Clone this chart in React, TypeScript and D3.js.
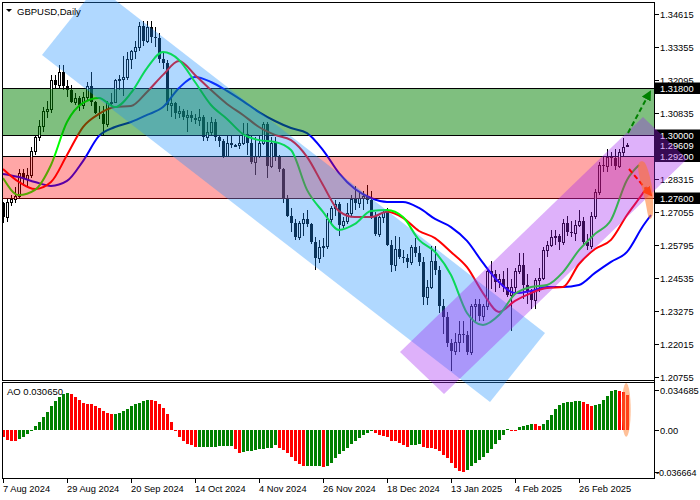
import React from 'react';
import * as d3 from 'd3';

const W = 700;
const H = 500;

// time axis: one label every 16 bars
const dateTicks = [0, 16, 32, 48, 64, 80, 96, 112, 128, 144];
const dateLabels = ['7 Aug 2024', '29 Aug 2024', '20 Sep 2024', '14 Oct 2024', '4 Nov 2024', '26 Nov 2024', '18 Dec 2024', '13 Jan 2025', '4 Feb 2025', '26 Feb 2025'];

// daily candles
const opens = [1.2740, 1.2688, 1.2745, 1.2755, 1.2765, 1.2855, 1.2830, 1.2845, 1.2940, 1.2990,
  1.3035, 1.3090, 1.3100, 1.3210, 1.3190, 1.3240, 1.3185, 1.3170, 1.3125, 1.3140,
  1.3115, 1.3145, 1.3185, 1.3125, 1.3085, 1.3080, 1.3040, 1.3120, 1.3125, 1.3210,
  1.3215, 1.3220, 1.3290, 1.3320, 1.3335, 1.3415, 1.3360, 1.3410, 1.3375, 1.3370,
  1.3290, 1.3275, 1.3115, 1.3120, 1.3085, 1.3090, 1.3070, 1.3075, 1.3065, 1.3055,
  1.3070, 1.2990, 1.3010, 1.3050, 1.2990, 1.2975, 1.2920, 1.2970, 1.2960, 1.2962,
  1.2970, 1.3005, 1.2970, 1.2895, 1.2920, 1.2970, 1.3040, 1.2880, 1.2970, 1.2915,
  1.2870, 1.2755, 1.2690, 1.2665, 1.2610, 1.2665, 1.2680, 1.2660, 1.2590, 1.2530,
  1.2570, 1.2575, 1.2680, 1.2720, 1.2735, 1.2655, 1.2670, 1.2700, 1.2755, 1.2740,
  1.2760, 1.2765, 1.2750, 1.2690, 1.2620, 1.2685, 1.2705, 1.2580, 1.2505, 1.2565,
  1.2535, 1.2530, 1.2515, 1.2570, 1.2550, 1.2515, 1.2380, 1.2420, 1.2520, 1.2485,
  1.2345, 1.2305, 1.2205, 1.2175, 1.2210, 1.2240, 1.2235, 1.2170, 1.2345, 1.2355,
  1.2310, 1.2345, 1.2480, 1.2470, 1.2440, 1.2450, 1.2420, 1.2390, 1.2420, 1.2480,
  1.2505, 1.2425, 1.2405, 1.2370, 1.2445, 1.2455, 1.2560, 1.2580, 1.2610, 1.2615,
  1.2590, 1.2665, 1.2630, 1.2625, 1.2655, 1.2670, 1.2590, 1.2575, 1.2690, 1.2780,
  1.2885, 1.2880, 1.2915, 1.2910, 1.2880, 1.2935, 1.2958];
const highs = [1.2745, 1.2755, 1.2770, 1.2800, 1.2870, 1.2870, 1.2875, 1.2955, 1.2995, 1.3055,
  1.3105, 1.3130, 1.3230, 1.3230, 1.3265, 1.3265, 1.3210, 1.3190, 1.3160, 1.3150,
  1.3165, 1.3200, 1.3240, 1.3130, 1.3110, 1.3110, 1.3130, 1.3160, 1.3215, 1.3230,
  1.3300, 1.3315, 1.3325, 1.3360, 1.3430, 1.3435, 1.3435, 1.3435, 1.3410, 1.3390,
  1.3315, 1.3285, 1.3175, 1.3125, 1.3110, 1.3100, 1.3095, 1.3090, 1.3080, 1.3100,
  1.3075, 1.3050, 1.3070, 1.3060, 1.3000, 1.2985, 1.2995, 1.2995, 1.2965, 1.2995,
  1.3045, 1.3045, 1.3000, 1.2990, 1.2995, 1.3050, 1.3050, 1.2990, 1.2990, 1.2925,
  1.2875, 1.2770, 1.2720, 1.2680, 1.2670, 1.2700, 1.2715, 1.2665, 1.2610, 1.2600,
  1.2605, 1.2700, 1.2730, 1.2750, 1.2745, 1.2685, 1.2740, 1.2770, 1.2805, 1.2785,
  1.2785, 1.2810, 1.2785, 1.2705, 1.2690, 1.2710, 1.2720, 1.2600, 1.2615, 1.2610,
  1.2560, 1.2545, 1.2580, 1.2605, 1.2575, 1.2535, 1.2445, 1.2575, 1.2575, 1.2500,
  1.2375, 1.2325, 1.2220, 1.2245, 1.2290, 1.2290, 1.2250, 1.2355, 1.2375, 1.2375,
  1.2355, 1.2490, 1.2520, 1.2485, 1.2470, 1.2480, 1.2490, 1.2450, 1.2490, 1.2550,
  1.2550, 1.2470, 1.2410, 1.2455, 1.2490, 1.2570, 1.2595, 1.2635, 1.2635, 1.2620,
  1.2680, 1.2690, 1.2670, 1.2675, 1.2715, 1.2685, 1.2620, 1.2705, 1.2795, 1.2895,
  1.2920, 1.2945, 1.2935, 1.2945, 1.2945, 1.2988, 1.2968];
const lows = [1.2665, 1.2668, 1.2730, 1.2740, 1.2760, 1.2805, 1.2800, 1.2835, 1.2925, 1.2975,
  1.3010, 1.3065, 1.3085, 1.3175, 1.3180, 1.3170, 1.3145, 1.3120, 1.3115, 1.3090,
  1.3100, 1.3135, 1.3110, 1.3080, 1.3060, 1.3000, 1.3030, 1.3110, 1.3120, 1.3170,
  1.3150, 1.3210, 1.3250, 1.3290, 1.3320, 1.3340, 1.3350, 1.3350, 1.3335, 1.3275,
  1.3250, 1.3090, 1.3070, 1.3060, 1.3065, 1.3055, 1.3010, 1.3050, 1.3040, 1.3035,
  1.2975, 1.2975, 1.3000, 1.2975, 1.2955, 1.2910, 1.2915, 1.2950, 1.2955, 1.2945,
  1.2960, 1.2925, 1.2890, 1.2845, 1.2910, 1.2960, 1.2835, 1.2875, 1.2900, 1.2860,
  1.2740, 1.2685, 1.2630, 1.2600, 1.2600, 1.2615, 1.2650, 1.2585, 1.2485, 1.2510,
  1.2535, 1.2565, 1.2665, 1.2690, 1.2615, 1.2645, 1.2660, 1.2690, 1.2715, 1.2720,
  1.2715, 1.2735, 1.2680, 1.2615, 1.2610, 1.2665, 1.2575, 1.2475, 1.2480, 1.2525,
  1.2510, 1.2490, 1.2505, 1.2535, 1.2500, 1.2350, 1.2350, 1.2410, 1.2465, 1.2320,
  1.2240, 1.2190, 1.2100, 1.2160, 1.2170, 1.2205, 1.2160, 1.2160, 1.2285, 1.2290,
  1.2290, 1.2330, 1.2410, 1.2400, 1.2415, 1.2400, 1.2380, 1.2250, 1.2400, 1.2470,
  1.2375, 1.2355, 1.2335, 1.2335, 1.2400, 1.2445, 1.2535, 1.2570, 1.2580, 1.2560,
  1.2580, 1.2615, 1.2610, 1.2595, 1.2650, 1.2585, 1.2560, 1.2565, 1.2680, 1.2770,
  1.2860, 1.2860, 1.2880, 1.2865, 1.2875, 1.2920, 1.2952];
const closes = [1.2685, 1.2745, 1.2755, 1.2765, 1.2855, 1.2830, 1.2845, 1.2940, 1.2990, 1.3035,
  1.3090, 1.3100, 1.3210, 1.3190, 1.3240, 1.3185, 1.3170, 1.3125, 1.3140, 1.3115,
  1.3145, 1.3185, 1.3125, 1.3085, 1.3080, 1.3040, 1.3120, 1.3125, 1.3210, 1.3215,
  1.3220, 1.3290, 1.3320, 1.3335, 1.3415, 1.3360, 1.3410, 1.3375, 1.3370, 1.3290,
  1.3275, 1.3115, 1.3120, 1.3085, 1.3090, 1.3070, 1.3075, 1.3065, 1.3055, 1.3070,
  1.2990, 1.3010, 1.3050, 1.2990, 1.2975, 1.2920, 1.2970, 1.2960, 1.2962, 1.2970,
  1.3005, 1.2970, 1.2895, 1.2920, 1.2970, 1.3040, 1.2880, 1.2970, 1.2915, 1.2870,
  1.2755, 1.2690, 1.2665, 1.2610, 1.2665, 1.2680, 1.2660, 1.2590, 1.2530, 1.2570,
  1.2575, 1.2680, 1.2720, 1.2735, 1.2655, 1.2670, 1.2700, 1.2755, 1.2740, 1.2760,
  1.2765, 1.2750, 1.2690, 1.2620, 1.2685, 1.2705, 1.2580, 1.2505, 1.2565, 1.2535,
  1.2530, 1.2515, 1.2570, 1.2550, 1.2515, 1.2380, 1.2420, 1.2520, 1.2485, 1.2345,
  1.2305, 1.2205, 1.2175, 1.2210, 1.2240, 1.2235, 1.2170, 1.2345, 1.2355, 1.2310,
  1.2345, 1.2480, 1.2470, 1.2440, 1.2450, 1.2420, 1.2390, 1.2420, 1.2480, 1.2505,
  1.2425, 1.2405, 1.2370, 1.2445, 1.2455, 1.2560, 1.2580, 1.2610, 1.2615, 1.2590,
  1.2665, 1.2630, 1.2625, 1.2655, 1.2670, 1.2590, 1.2575, 1.2690, 1.2780, 1.2885,
  1.2880, 1.2915, 1.2910, 1.2880, 1.2935, 1.2955, 1.29609];

// Alligator lines, read every 4 bars, plus the shifted end point
const lineStep = 4;
const lips = [1.2835, 1.2770, 1.2790, 1.2885, 1.3049, 1.3122, 1.3141, 1.3106, 1.3160, 1.3255,
  1.3316, 1.3286, 1.3202, 1.3114, 1.3061, 1.3003, 1.2980, 1.2973, 1.2942, 1.2790,
  1.2706, 1.2637, 1.2660, 1.2709, 1.2713, 1.2686, 1.2599, 1.2553, 1.2465, 1.2320,
  1.2274, 1.2312, 1.2392, 1.2419, 1.2427, 1.2476, 1.2560, 1.2622, 1.2675, 1.2828];
const lipsEnd = [159, 1.2885];
const teeth = [1.2870, 1.2820, 1.2793, 1.2820, 1.2923, 1.3030, 1.3080, 1.3106, 1.3110, 1.3164,
  1.3229, 1.3282, 1.3229, 1.3171, 1.3118, 1.3076, 1.3030, 1.3000, 1.2980, 1.2916,
  1.2809, 1.2709, 1.2686, 1.2686, 1.2706, 1.2683, 1.2633, 1.2606, 1.2553, 1.2495,
  1.2396, 1.2324, 1.2366, 1.2396, 1.2415, 1.2419, 1.2507, 1.2564, 1.2599, 1.2694, 1.2778];
const teethEnd = [161, 1.2801];
const jaw = [1.2851, 1.2839, 1.2820, 1.2805, 1.2824, 1.2900, 1.2996, 1.3030, 1.3049, 1.3076,
  1.3106, 1.3179, 1.3221, 1.3202, 1.3168, 1.3129, 1.3087, 1.3053, 1.3026, 1.3007,
  1.2942, 1.2854, 1.2793, 1.2759, 1.2744, 1.2744, 1.2721, 1.2679, 1.2648, 1.2595,
  1.2511, 1.2438, 1.2396, 1.2404, 1.2419, 1.2419, 1.2427, 1.2473, 1.2515, 1.2553, 1.2652];
const jawEnd = [162, 1.2694];

// Awesome Oscillator
const ao = [-0.0063, -0.0087, -0.0093, -0.0094, -0.0081, -0.0058, -0.0035, -0.0006, 0.0035, 0.0072,
  0.0110, 0.0159, 0.0211, 0.0254, 0.0289, 0.0309, 0.0324, 0.0309, 0.0289, 0.0260,
  0.0237, 0.0225, 0.0223, 0.0208, 0.0188, 0.0168, 0.0145, 0.0136, 0.0140, 0.0145,
  0.0165, 0.0182, 0.0208, 0.0223, 0.0237, 0.0252, 0.0260, 0.0259, 0.0254, 0.0225,
  0.0188, 0.0139, 0.0066, -0.0006, -0.0058, -0.0101, -0.0124, -0.0136, -0.0150, -0.0149,
  -0.0148, -0.0147, -0.0146, -0.0145, -0.0144, -0.0143, -0.0142, -0.0141, -0.0170, -0.0200,
  -0.0190, -0.0183, -0.0180, -0.0176, -0.0170, -0.0165, -0.0162, -0.0156, -0.0136, -0.0156,
  -0.0176, -0.0200, -0.0235, -0.0272, -0.0301, -0.0316, -0.0315, -0.0314, -0.0313, -0.0312,
  -0.0323, -0.0314, -0.0289, -0.0246, -0.0208, -0.0182, -0.0156, -0.0124, -0.0101, -0.0072,
  -0.0049, -0.0029, -0.0014, -0.0029, -0.0043, -0.0052, -0.0064, -0.0093, -0.0101, -0.0116,
  -0.0136, -0.0145, -0.0136, -0.0130, -0.0121, -0.0145, -0.0159, -0.0160, -0.0168, -0.0188,
  -0.0217, -0.0246, -0.0290, -0.0335, -0.0362, -0.036664, -0.0345, -0.0312, -0.0285, -0.0258,
  -0.0235, -0.0200, -0.0165, -0.0125, -0.0085, -0.0045, 0.0010, -0.0003, -0.0005, 0.0029,
  0.0030, 0.0038, 0.0052, 0.0049, 0.0035, 0.0050, 0.0087, 0.0130, 0.0179, 0.0217,
  0.0231, 0.0240, 0.0246, 0.0248, 0.0249, 0.0240, 0.0225, 0.0208, 0.0217, 0.0225,
  0.0260, 0.0295, 0.0335, 0.034685, 0.0340, 0.0330, 0.030650];

// price scale ticks and marked levels
const priceTicks = [1.34615, 1.33355, 1.32095, 1.30835, 1.29575, 1.28315, 1.27055, 1.25795, 1.24535, 1.23275, 1.22015, 1.20755];
const levels = [1.318, 1.300, 1.292, 1.276];
const priceBoxes = [1.318, 1.300, 1.29609, 1.292, 1.276];
const aoTicks = [0.034685, 0, -0.036664];
const aoTickLabels = ['0.034685', '0.00', '-0.036664'];

// drawn objects, [bar, price]
const blueChannel = [[9.75, 1.3305], [23.5, 1.35685], [135.5, 1.22435], [121.75, 1.198]];
const purpleChannel = [[99.25, 1.2171], [160, 1.30683], [171, 1.29079], [110.25, 1.20106]];
const greenArrow = [[156.25, 1.30072], [161.75, 1.31637]];
const redArrow = [[156.5, 1.28697], [162, 1.27704]];
const orangeWedge = [[158.75, 1.28773], [160.5, 1.28926], [162.25, 1.2801], [162.5, 1.27017], [161.5, 1.26826], [160.5, 1.27513]];
const aoMark = { bar: 155.8, top: 0.0407, bottom: -0.0061 };

const FONT = '"Liberation Sans", Arial, sans-serif';

const x = d3.scaleLinear().domain([0, 156]).range([3, 627]);
const y = d3.scaleLinear().domain([1.20755, 1.34615]).range([377, 14]);
const ya = d3.scaleLinear().domain([-0.036664, 0.034685]).range([472, 390]);

const plotLeft = 2;
const plotRight = 654;
const mainBottom = 380;
const aoTop = 382;
const aoBottom = 478;

const linePath = d3.line<number[]>().x(d => x(d[0])).y(d => y(d[1])).curve(d3.curveMonotoneX);
const polyPath = d3.line<number[]>().x(d => x(d[0])).y(d => y(d[1]));
const blobPath = d3.line<number[]>().x(d => x(d[0])).y(d => y(d[1])).curve(d3.curveCardinalClosed);

const toPts = (vals: number[], end: number[]) => vals.map((v, k) => [k * lineStep, v]).concat([end]);

// MT4 colouring: green while the AO rises, red while it falls
const aoColors = (() => {
  let up = false;
  return ao.map((v, i) => {
    if (i > 0) {
      if (v > ao[i - 1]) up = true;
      if (v < ao[i - 1]) up = false;
    }
    return up ? '#008000' : '#ff0000';
  });
})();

const px = (v: number) => Math.round(v) + 0.5;

export default function App() {
  return (
    <svg width={W} height={H} style={{ position: 'absolute', left: 0, top: 0, background: '#fff' }}
      fontFamily={FONT}>
      <defs>
        <marker id="hg" viewBox="0 0 10 10" refX="8" refY="5" markerWidth="10" markerHeight="10"
          markerUnits="userSpaceOnUse" orient="auto">
          <path d="M0,0 L10,5 L0,10 z" fill="#008000" />
        </marker>
        <marker id="hr" viewBox="0 0 10 10" refX="8" refY="5" markerWidth="10" markerHeight="10"
          markerUnits="userSpaceOnUse" orient="auto">
          <path d="M0,0 L10,5 L0,10 z" fill="#ff0000" />
        </marker>
      </defs>
      <rect width={W} height={H} fill="#fff" />

      {/* level lines */}
      {levels.map((l, i) => (
        <line key={'lv' + i} x1={plotLeft} x2={plotRight} y1={px(y(l))} y2={px(y(l))}
          stroke="#000" strokeWidth={1} />
      ))}

      {/* candles */}
      <g shapeRendering="crispEdges">
        {opens.map((o, i) => {
          const c = closes[i];
          const cx = Math.round(x(i)) + 0.5;
          const top = Math.round(y(Math.max(o, c)));
          const bot = Math.round(y(Math.min(o, c)));
          const bull = c >= o;
          return (
            <g key={'c' + i}>
              <line x1={cx} x2={cx} y1={y(highs[i])} y2={y(lows[i])} stroke="#000" />
              {bull
                ? <rect x={cx - 1} y={top + 0.5} width={2} height={Math.max(bot - top, 1)} fill="#fff" stroke="#000" />
                : <rect x={cx - 1.5} y={top} width={3} height={Math.max(bot - top, 1)} fill="#000" />}
            </g>
          );
        })}
      </g>

      {/* alligator */}
      <path d={linePath(toPts(jaw, jawEnd)) || ''} fill="none" stroke="#0000ff" strokeWidth={2} />
      <path d={linePath(toPts(teeth, teethEnd)) || ''} fill="none" stroke="#ff0000" strokeWidth={2} />
      <path d={linePath(toPts(lips, lipsEnd)) || ''} fill="none" stroke="#00ff00" strokeWidth={2} />

      {/* AO histogram */}
      <g shapeRendering="crispEdges">
        {ao.map((v, i) => {
          const y0 = ya(0);
          const y1 = ya(v);
          return <rect key={'a' + i} x={Math.round(x(i)) - 1} y={Math.min(y0, y1)} width={3}
            height={Math.max(Math.abs(y1 - y0), 1)} fill={aoColors[i]} />;
        })}
      </g>

      {/* frames */}
      <g stroke="#000" strokeWidth={1} shapeRendering="crispEdges">
        <line x1={plotLeft} x2={plotRight + 0.5} y1={2.5} y2={2.5} />
        <line x1={2.5} x2={2.5} y1={2} y2={mainBottom} />
        <line x1={2.5} x2={2.5} y1={aoTop} y2={aoBottom} />
        <line x1={plotLeft} x2={plotRight} y1={mainBottom + 0.5} y2={mainBottom + 0.5} />
        <line x1={plotLeft} x2={plotRight} y1={aoTop + 0.5} y2={aoTop + 0.5} />
        <line x1={plotLeft} x2={plotRight} y1={aoBottom + 0.5} y2={aoBottom + 0.5} />
        <line x1={plotRight + 0.5} x2={plotRight + 0.5} y1={2} y2={aoBottom + 1} />
      </g>

      {/* price axis */}
      {priceTicks.map(t => (
        <g key={'pt' + t}>
          <line x1={plotRight} x2={plotRight + 5} y1={px(y(t))} y2={px(y(t))} stroke="#000" />
          <text x={660} y={Math.round(y(t)) + 3.5} fontSize={9.3} fill="#000">{t.toFixed(5)}</text>
        </g>
      ))}
      {priceBoxes.map(b => (
        <g key={'pb' + b}>
          <rect x={655} y={Math.round(y(b)) - 5.5} width={45} height={11.5} fill="#000" />
          <text x={660} y={Math.round(y(b)) + 3.5} fontSize={9.3} fill="#fff">{b.toFixed(5)}</text>
        </g>
      ))}

      {/* AO axis */}
      {aoTicks.map((t, i) => (
        <g key={'at' + i}>
          <line x1={plotRight} x2={plotRight + 5} y1={px(ya(t))} y2={px(ya(t))} stroke="#000" />
          <text x={t < 0 ? 656 : 660} y={Math.round(ya(t)) + 3.5} fontSize={t < 0 ? 9 : 9.3}
            fill="#000">{aoTickLabels[i]}</text>
        </g>
      ))}

      {/* time axis */}
      {dateTicks.map((d, i) => (
        <g key={'dt' + d}>
          <line x1={px(x(d))} x2={px(x(d))} y1={aoBottom} y2={aoBottom + 5} stroke="#000" />
          <text x={x(d)} y={492} fontSize={9.3} fill="#000">{dateLabels[i]}</text>
        </g>
      ))}

      {/* zones and channels */}
      <rect x={plotLeft + 1} y={Math.round(y(levels[0])) + 1} width={plotRight - plotLeft - 1}
        height={Math.round(y(levels[1])) - Math.round(y(levels[0])) - 1} fill="rgba(0,128,0,0.5)" />
      <rect x={plotLeft + 1} y={Math.round(y(levels[2])) + 1} width={plotRight - plotLeft - 1}
        height={Math.round(y(levels[3])) - Math.round(y(levels[2]))} fill="rgba(255,0,0,0.35)" />
      <path d={(polyPath(blueChannel) || '') + 'Z'} fill="rgba(30,144,255,0.35)" />
      <path d={(polyPath(purpleChannel) || '') + 'Z'} fill="rgba(160,32,240,0.35)" />

      {/* forecast arrows */}
      <path d={polyPath(greenArrow) || ''} stroke="#008000" strokeWidth={2} strokeDasharray="5,3"
        fill="none" markerEnd="url(#hg)" />
      <path d={polyPath(redArrow) || ''} stroke="#ff0000" strokeWidth={2} strokeDasharray="5,3"
        fill="none" markerEnd="url(#hr)" />
      <path d={blobPath(orangeWedge) || ''} fill="rgba(255,120,40,0.55)" />
      <ellipse cx={x(aoMark.bar)} cy={(ya(aoMark.top) + ya(aoMark.bottom)) / 2} rx={4.5}
        ry={(ya(aoMark.bottom) - ya(aoMark.top)) / 2} fill="rgba(255,130,50,0.5)" />

      {/* titles */}
      <path d="M6,9 L12,9 L9,12 z" fill="#000" />
      <text x={17} y={15} fontSize={9.5} fill="#000">GBPUSD,Daily</text>
      <text x={7} y={395} fontSize={9.5} fill="#000">AO 0.030650</text>
    </svg>
  );
}
